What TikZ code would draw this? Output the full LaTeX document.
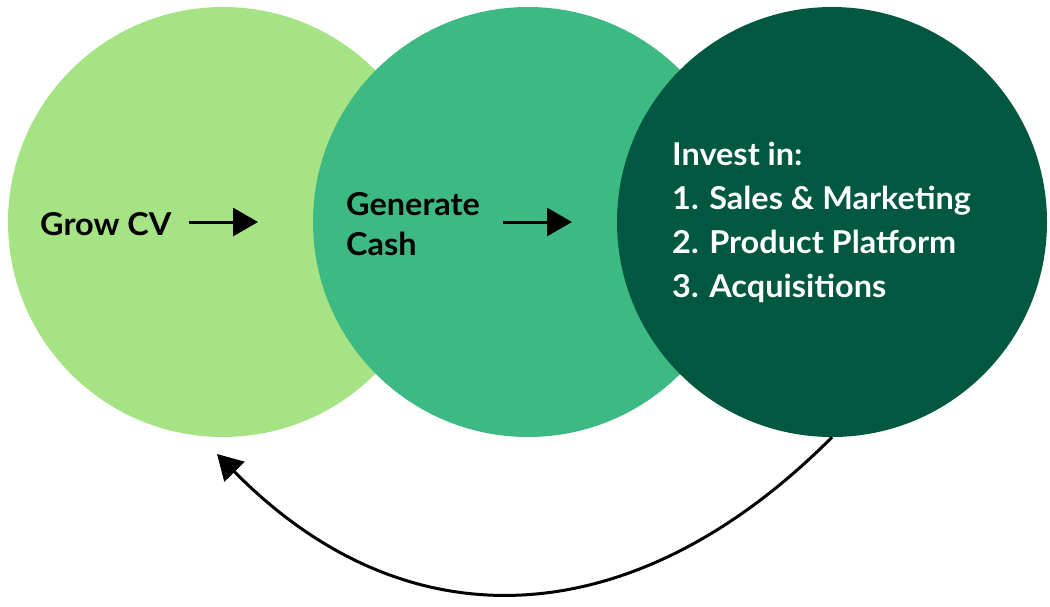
\documentclass[tikz,border=0pt]{standalone}
\usepackage{fontspec}
\setmainfont{Lato}[FakeStretch=1.03]
\usetikzlibrary{arrows.meta}
\definecolor{cLight}{HTML}{A6E384}
\definecolor{cMid}{HTML}{3DBA83}
\definecolor{cDark}{HTML}{005840}
\begin{document}
\begin{tikzpicture}[x=1pt,y=-1pt,
  bubble/.style={circle, minimum size=430pt, inner sep=0pt, draw=none},
  lbl/.style={anchor=base west, inner sep=0pt, font=\fontsize{31.5}{44}\selectfont\bfseries, align=left},
  flow/.style={line width=3pt, -{Triangle[length=25pt,width=28pt]}}]
\useasboundingbox (0,0) rectangle (1050,606);
\node[bubble, fill=cLight] (c1) at (223,222) {};
\node[bubble, fill=cMid] (c2) at (528,222) {};
\node[bubble, fill=cDark] (c3) at (832,222) {};
\node[lbl] (t1) at (40,235) {Grow CV};
\node[lbl] (t2) at (346,215) {Generate};
\node[lbl] (t2b) at (346,255) {Cash};
\node[lbl, text=white] (t3a) at (672,165) {Invest in:};
\node[lbl, text=white] (t3b) at (672,209) {1. Sales \& Marketing};
\node[lbl, text=white] (t3c) at (672,253) {2. Product Platform};
\node[lbl, text=white] (t3d) at (672,297) {3. Acquisitions};
\coordinate (a1s) at (189,222);
\coordinate (a1e) at (258,222);
\coordinate (a2s) at (503,222);
\coordinate (a2e) at (572,222);
\coordinate (back) at (217,454);
\draw[flow] (a1s) -- (a1e);
\draw[flow] (a2s) -- (a2e);
\draw[flow] (c3.south) .. controls (639,631) and (412,652) .. (back);
\end{tikzpicture}
\end{document}
